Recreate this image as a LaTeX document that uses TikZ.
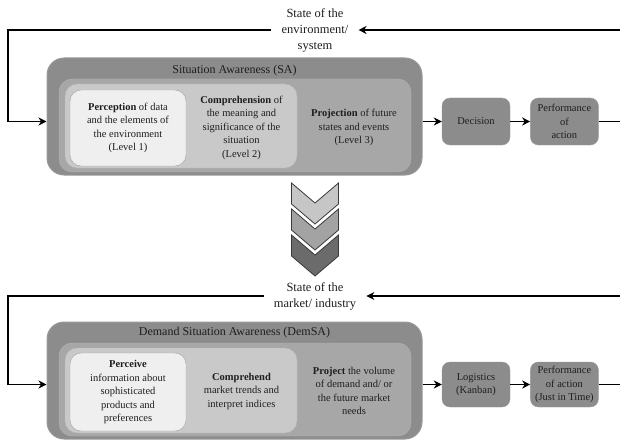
\documentclass[tikz,border=0pt]{standalone}
\usepackage{fontspec}
\setmainfont{Liberation Serif}
\usetikzlibrary{positioning,arrows.meta}
\definecolor{ink}{HTML}{1E1E1E}
\definecolor{lvlA}{HTML}{8C8C8C}
\definecolor{lvlAline}{HTML}{9A9A9A}
\definecolor{lvlB}{HTML}{A7A7A7}
\definecolor{lvlBline}{HTML}{B2B2B2}
\definecolor{lvlC}{HTML}{C9C9C9}
\definecolor{lvlCline}{HTML}{B4B4B4}
\definecolor{lvlD}{HTML}{EFEFEF}
\definecolor{lvlDline}{HTML}{A3A3A3}
\definecolor{chevA}{HTML}{C6C6C6}
\definecolor{chevB}{HTML}{A3A3A3}
\definecolor{chevC}{HTML}{6B6B6B}
\definecolor{chevline}{HTML}{3A3A3A}

\begin{document}
\begin{tikzpicture}[x=1pt,y=-1pt,
  every text node part/.style={align=center},
  >={Stealth[length=8pt,width=8pt,inset=2.5pt]},
  font=\fontsize{10.5}{13.5}\selectfont, text=ink,
  outerbox/.style={fill=lvlA, draw=lvlAline, line width=1pt, rounded corners=17pt,
    minimum width=375pt, minimum height=117pt},
  projbox/.style={fill=lvlB, draw=lvlBline, rounded corners=13pt,
    minimum width=352pt, minimum height=93pt},
  compbox/.style={fill=lvlC, draw=lvlCline, rounded corners=12pt,
    minimum width=232pt, minimum height=84pt},
  percbox/.style={fill=lvlD, draw=lvlDline, rounded corners=11pt,
    minimum width=116pt, minimum height=76pt},
  actbox/.style={fill=lvlA, draw=lvlAline, rounded corners=8pt,
    minimum width=68pt, minimum height=47pt, inner sep=1pt},
  boxtitle/.style={font=\fontsize{12}{14}\selectfont},
  statetext/.style={font=\fontsize{12.5}{16}\selectfont, inner xsep=10pt},
  flow/.style={->, draw=black, line width=1.6pt},
  chev/.style={draw=chevline, line width=0.8pt, line join=miter,
    preaction={draw=white, line width=4pt}}]
  \useasboundingbox (0,0) rectangle (620,441);

  \node (sa) [outerbox] at (234.5,116.5) {};
  \node (satitle) [boxtitle] at (234.5,71) {Situation Awareness (SA)};
  \node (proj) [projbox] at (235,125.5) {};
  \node (comp) [compbox] at (181,126) {};
  \node (perc) [percbox] at (128,128) {\textbf{Perception} of data\\and the elements of\\the environment\\(Level 1)};
  \node (comptext) at (241.5,127.5) {\textbf{Comprehension} of\\the meaning and\\significance of the\\situation\\(Level 2)};
  \node (projtext) at (354,127.5) {\textbf{Projection} of future\\states and events\\(Level 3)};
  \node (dec) [actbox] at (476,121.5) {Decision};
  \node (perf) [actbox, right=20pt of dec] {Performance\\of\\action};
  \node (env) [statetext] at (315,30) {State of the\\environment/\\system};
  \coordinate (envleft) at (8,30);

\draw[flow] (sa.east |- dec.west) -- (dec.west);
\draw[flow] (dec) -- (perf);
\draw[flow] (perf.east) -- ++(24,0) |- (env.east);
\draw[flow] (env.west) -- (envleft) |- (sa.west |- dec.west);

  \foreach \y/\c in {183/chevA,209/chevB,235/chevC}
    \draw[chev, fill=\c] (291.5,\y) -- (315,\y+20) -- (338.5,\y) -- (338.5,\y+21)
      -- (315,\y+41) -- (291.5,\y+21) -- cycle;

  \node (dsa) [outerbox] at (234.5,380.5) {};
  \node (dsatitle) [boxtitle] at (234.5,333) {Demand Situation Awareness (DemSA)};
  \node (proj2) [projbox] at (235,389.5) {};
  \node (comp2) [compbox, minimum height=85pt] at (181,390.5) {};
  \node (perc2) [percbox, minimum height=78pt] at (128,392) {\textbf{Perceive}\\information about\\sophisticated\\products and\\preferences};
  \node (comptext2) at (241.5,391) {\textbf{Comprehend}\\market trends and\\interpret indices};
  \node (projtext2) at (354,391) {\textbf{Project} the volume\\of demand and/ or\\the future market\\needs};
  \node (log) [actbox, minimum height=45pt] at (476,384.5) {Logistics\\(Kanban)};
  \node (perf2) [actbox, minimum height=45pt, right=20pt of log] {Performance\\of action\\(Just in Time)};
  \node (mkt) [statetext] at (315,296) {State of the\\market/ industry};
  \coordinate (mktleft) at (8,296);

\draw[flow] (dsa.east |- log.west) -- (log.west);
\draw[flow] (log) -- (perf2);
\draw[flow] (perf2.east) -- ++(24,0) |- (mkt.east);
\draw[flow] (mkt.west) -- (mktleft) |- (dsa.west |- log.west);
\end{tikzpicture}
\end{document}
